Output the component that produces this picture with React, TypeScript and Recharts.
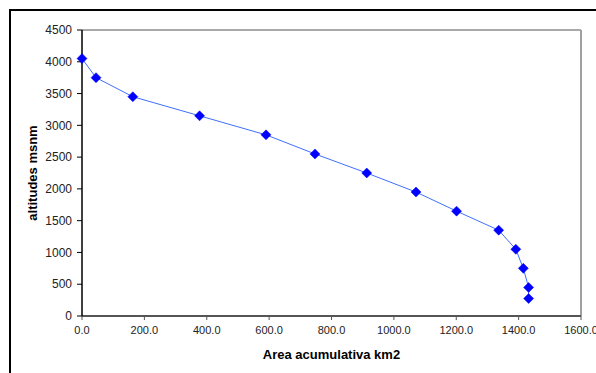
import React from 'react';
import { LineChart, Line, XAxis, YAxis, ReferenceLine } from 'recharts';

const areaKm2 = [0, 45, 163, 377, 590, 747, 913, 1071, 1201, 1336, 1391, 1415, 1432, 1432];
const altitudes = [4050, 3750, 3450, 3150, 2850, 2550, 2250, 1950, 1650, 1350, 1050, 750, 450, 275];
const xTicks = [0, 200, 400, 600, 800, 1000, 1200, 1400, 1600];
const yTicks = [0, 500, 1000, 1500, 2000, 2500, 3000, 3500, 4000, 4500];

const data = areaKm2.map((a, i) => ({ area: a, alt: altitudes[i] }));

const Diamond = (props: any) => {
  const { cx, cy } = props;
  if (cx == null || cy == null) return null;
  const r = 5;
  return (
    <path
      d={`M${cx},${cy - r} L${cx + r},${cy} L${cx},${cy + r} L${cx - r},${cy} Z`}
      fill="#0000ff"
      stroke="#0000ff"
      strokeWidth={0.5}
    />
  );
};

export default function App() {
  return (
    <div style={{ position: 'absolute', left: 0, top: 0, width: 596, height: 373, background: '#fff', overflow: 'hidden' }}>
      <div
        style={{
          position: 'absolute',
          left: 9,
          top: 9,
          width: 600,
          height: 400,
          borderTop: '2px solid #000',
          borderLeft: '2px solid #000',
        }}
      />
      <div style={{ position: 'absolute', left: 0, top: 0 }}>
        <LineChart
          width={596}
          height={373}
          data={data}
          margin={{ top: 30, right: 15, bottom: 12, left: 10 }}
          style={{ fontFamily: '"Liberation Sans", Arial, sans-serif' }}
        >
          <ReferenceLine y={4500} stroke="#8c8c8c" strokeWidth={1.5} ifOverflow="extendDomain" />
          <ReferenceLine x={1600} stroke="#a0a0a0" strokeWidth={2} ifOverflow="extendDomain" />
          <XAxis
            type="number"
            dataKey="area"
            domain={[0, 1600]}
            ticks={xTicks}
            interval={0}
            tickFormatter={(v: number) => v.toFixed(1)}
            height={45}
            tickSize={4}
            tickMargin={6}
            axisLine={{ stroke: '#555', strokeWidth: 2 }}
            tickLine={{ stroke: '#555' }}
            tick={{ fill: '#222', fontSize: 11 }}
            label={{
              value: 'Area acumulativa km2',
              position: 'insideBottom',
              offset: 2,
              style: { fontWeight: 'bold', fontSize: 13, fill: '#000' },
            }}
          />
          <YAxis
            type="number"
            dataKey="alt"
            domain={[0, 4500]}
            ticks={yTicks}
            interval={0}
            width={72}
            tickSize={5}
            tickMargin={5}
            axisLine={{ stroke: '#000', strokeWidth: 1.5 }}
            tickLine={{ stroke: '#000' }}
            tick={{ fill: '#222', fontSize: 12 }}
            label={{
              value: 'altitudes msnm',
              angle: -90,
              position: 'insideLeft',
              offset: 22,
              style: { fontWeight: 'bold', fontSize: 13, fill: '#000', textAnchor: 'middle' },
            }}
          />
          <Line
            type="linear"
            dataKey="alt"
            stroke="#3f6fff"
            strokeWidth={1}
            dot={<Diamond />}
            activeDot={false}
            isAnimationActive={false}
          />
        </LineChart>
      </div>
    </div>
  );
}
